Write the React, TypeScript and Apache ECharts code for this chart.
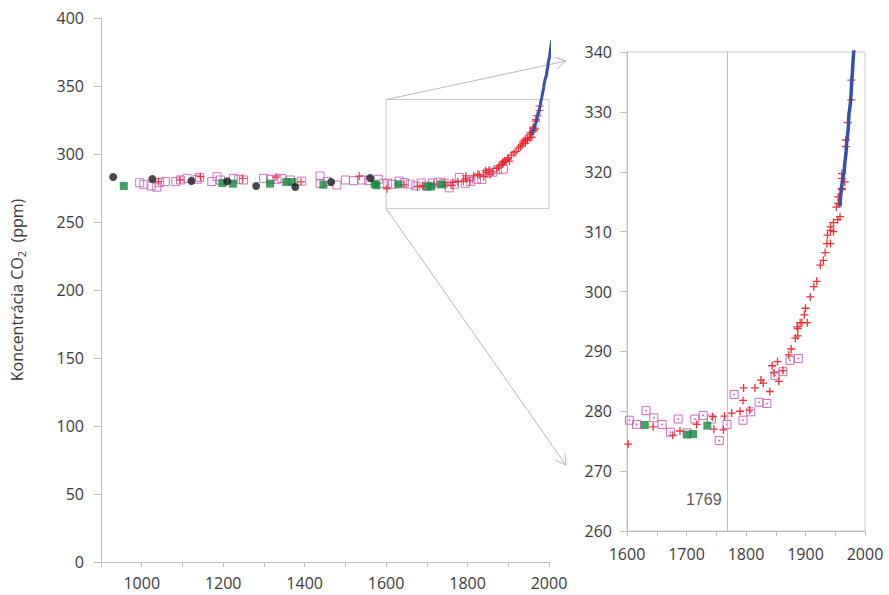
import React, { useEffect, useRef } from 'react';
import * as echarts from 'echarts';

// Ice-core / instrumental CO2 records: [year, ppm]
const blackCircles: number[][] = [
  [930, 283.1], [1026, 281.6], [1122, 280.1], [1210, 279.9], [1281, 276.5],
  [1377, 275.7], [1465, 279.4], [1561, 282.4],
];

const greenSquares: number[][] = [
  [956, 276.5], [1198, 278.7], [1224, 278.2], [1315, 278.2], [1355, 279.4],
  [1370, 279.4], [1446, 277.4], [1572, 278.0], [1576, 277.0], [1630, 277.7],
  [1701, 276.1], [1711, 276.2], [1735, 277.6],
];

const magentaSquares: number[][] = [
  [995, 278.9], [1005, 277.7], [1023, 276.5], [1037, 275.6], [1044, 278.9],
  [1058, 279.7], [1084, 279.7], [1095, 280.9], [1111, 282.1], [1136, 281.4],
  [1142, 282.8], [1172, 279.7], [1185, 283.3], [1193, 280.9], [1225, 282.1],
  [1238, 281.4], [1250, 280.9], [1299, 282.1], [1316, 281.4], [1332, 281.4],
  [1344, 282.1], [1365, 280.9], [1393, 280.1], [1438, 283.8], [1438, 278.4],
  [1455, 279.7], [1479, 277.2], [1500, 280.9], [1520, 280.4], [1541, 280.9],
  [1557, 280.4], [1581, 281.4], [1593, 278.4],
  [1604, 278.5], [1616, 277.8], [1632, 280.1], [1645, 278.9], [1659, 277.8],
  [1673, 276.5], [1686, 278.7], [1701, 276.4], [1714, 278.7], [1728, 279.3],
  [1742, 278.7], [1755, 275.1], [1768, 277.8], [1780, 282.8], [1795, 278.5],
  [1808, 279.9], [1822, 281.5], [1835, 281.3], [1849, 286.0], [1862, 286.6],
  [1874, 288.5], [1888, 288.8],
];

const redCrosses: number[][] = [
  [1041, 279.7], [1094, 281.0], [1144, 283.3], [1248, 282.0], [1330, 283.0],
  [1391, 279.5], [1534, 283.8],
  [1602, 274.5], [1644, 277.4], [1677, 276.0], [1689, 276.7], [1717, 277.8],
  [1744, 279.1], [1746, 277.0], [1762, 276.9], [1764, 279.2], [1776, 279.7],
  [1790, 280.0], [1795, 281.8], [1796, 283.9], [1806, 280.2], [1815, 283.9],
  [1825, 285.2], [1829, 284.7], [1840, 283.3], [1844, 287.6], [1847, 286.4],
  [1853, 288.3], [1855, 285.0], [1862, 286.8], [1872, 289.4], [1876, 290.4],
  [1883, 292.2], [1886, 294.1], [1887, 292.6], [1887, 293.8], [1891, 294.8],
  [1894, 294.8], [1898, 296.1], [1900, 297.2], [1903, 294.8], [1908, 299.1],
  [1914, 300.8], [1919, 301.7], [1925, 304.4], [1930, 305.2], [1933, 306.5],
  [1936, 308.0], [1937, 309.4], [1942, 308.0], [1942, 310.2], [1942, 310.8],
  [1947, 310.0], [1947, 311.5], [1952, 314.1], [1954, 312.0], [1955, 314.7],
  [1955, 315.8], [1958, 312.5], [1961, 317.0], [1961, 317.2], [1961, 318.9],
  [1961, 319.7], [1966, 318.3], [1968, 324.2], [1968, 325.3], [1971, 328.2],
  [1977, 332.0], [1977, 335.3],
];

const maunaLoa: number[][] = [
  [1958, 314.2], [1959, 316.0], [1960, 316.9], [1961, 317.6], [1962, 318.5],
  [1963, 319.0], [1964, 319.6], [1965, 320.0], [1966, 321.4], [1967, 322.2],
  [1968, 323.0], [1969, 324.6], [1970, 325.7], [1971, 326.3], [1972, 327.5],
  [1973, 329.7], [1974, 330.2], [1975, 331.1], [1976, 332.0], [1977, 333.8],
  [1978, 335.4], [1979, 336.8], [1980, 338.7], [1981, 339.9], [1982, 341.1],
  [1983, 342.8], [1984, 344.4], [1985, 345.9], [1986, 347.2], [1987, 348.9],
  [1988, 351.5], [1989, 352.9], [1990, 354.2], [1991, 355.6], [1992, 356.4],
  [1993, 357.1], [1994, 358.8], [1995, 360.8], [1996, 362.6], [1997, 363.7],
  [1998, 366.7], [1999, 368.4], [2000, 369.7], [2001, 371.3], [2002, 373.5],
  [2003, 375.8], [2004, 377.5], [2005, 379.8], [2006, 381.9], [2007, 383.8],
];

const zoomWindow = { x0: 1600, x1: 2000, y0: 260, y1: 340 };
const cutoffYear = 1769;
const cutoffLabelValue = 265.2;
const yAxisTitle = 'Koncentrácia CO{s|2}  (ppm)';

const CROSS = 'path://M0,5L10,5M5,0L5,10';
const BOX = 'path://M0,0L10,0L10,10L0,10Z';
const BOX_DOT = 'path://M0,0L10,0L10,10L0,10Z M4.4,4.4L5.6,4.4L5.6,5.6L4.4,5.6Z';

const AXIS_COLOR = '#bdbdbd';
const LABEL_COLOR = '#3a3a3a';
const FONT = 'Open Sans';
const FS = 16;
const RED = '#f0262b';
const MAGENTA = '#c65ab8';
const GREEN = '#138a3e';
const BLACK = '#1a1a1a';
const BLUE = '#3352a6';

export default function App() {
  const ref = useRef<HTMLDivElement>(null);

  useEffect(() => {
    const chart = echarts.init(ref.current!, null, { renderer: 'svg' });
    const inZoom = (d: number[]) => d[0] >= zoomWindow.x0;

    const axisLine = { show: true, lineStyle: { color: AXIS_COLOR, width: 1 } };
    const tick = (len: number) => ({ show: true, inside: false, length: len, lineStyle: { color: AXIS_COLOR } });
    const label = { color: LABEL_COLOR, fontFamily: FONT, fontSize: FS };

    const option: any = {
      animation: false,
      backgroundColor: '#ffffff',
      grid: [
        { left: 101, top: 18, width: 448, height: 544, show: false },
        { left: 627, top: 52, width: 238, height: 479, show: true, borderColor: '#c8c8c8', borderWidth: 1, backgroundColor: 'transparent' },
      ],
      xAxis: [
        {
          gridIndex: 0, type: 'value', min: 900, max: 2000, interval: 100,
          axisLine, axisTick: tick(5), splitLine: { show: false },
          axisLabel: { ...label, margin: 13, formatter: (v: number) => (v % 200 === 0 ? String(v) : '') },
        },
        {
          gridIndex: 1, type: 'value', min: 1600, max: 2000, interval: 50,
          axisLine, axisTick: tick(5), splitLine: { show: false },
          axisLabel: { ...label, margin: 15, formatter: (v: number) => (v % 100 === 0 ? String(v) : '') },
        },
      ],
      yAxis: [
        {
          gridIndex: 0, type: 'value', min: 0, max: 400, interval: 50,
          axisLine, axisTick: tick(7), splitLine: { show: false },
          axisLabel: { ...label, margin: 17 },
          name: yAxisTitle,
          nameLocation: 'middle',
          nameRotate: 90,
          nameGap: 74,
          nameTextStyle: {
            color: LABEL_COLOR, fontFamily: FONT, fontSize: FS,
            rich: { s: { fontFamily: FONT, fontSize: 11, color: LABEL_COLOR, padding: [10, 0, 0, 0] } },
          },
        },
        {
          gridIndex: 1, type: 'value', min: 260, max: 340, interval: 10,
          axisLine, axisTick: tick(7), splitLine: { show: false },
          axisLabel: { ...label, margin: 15 },
        },
      ],
      series: [
        // Left (overview) grid
        {
          type: 'scatter', xAxisIndex: 0, yAxisIndex: 0, data: magentaSquares,
          symbol: BOX, symbolSize: 8,
          itemStyle: { color: 'transparent', borderColor: MAGENTA, borderWidth: 1, opacity: 0.85 },
          markArea: {
            silent: true,
            itemStyle: { color: 'transparent', borderColor: '#c4c4c4', borderWidth: 1 },
            data: [[{ xAxis: zoomWindow.x0, yAxis: zoomWindow.y0 }, { xAxis: zoomWindow.x1, yAxis: zoomWindow.y1 }]],
          },
        },
        {
          type: 'scatter', xAxisIndex: 0, yAxisIndex: 0, data: redCrosses,
          symbol: CROSS, symbolSize: 8,
          itemStyle: { color: 'transparent', borderColor: RED, borderWidth: 1.2, opacity: 0.9 },
        },
        {
          type: 'scatter', xAxisIndex: 0, yAxisIndex: 0, data: greenSquares,
          symbol: 'rect', symbolSize: 8, itemStyle: { color: GREEN },
        },
        {
          type: 'scatter', xAxisIndex: 0, yAxisIndex: 0, data: blackCircles,
          symbol: 'circle', symbolSize: 8, itemStyle: { color: BLACK },
        },
        {
          type: 'line', xAxisIndex: 0, yAxisIndex: 0, data: maunaLoa, clip: false,
          showSymbol: false, symbol: 'none', lineStyle: { color: BLUE, width: 3 },
        },
        // Right (zoomed) grid
        {
          type: 'scatter', xAxisIndex: 1, yAxisIndex: 1, data: magentaSquares.filter(inZoom),
          symbol: BOX_DOT, symbolSize: 8,
          itemStyle: { color: 'transparent', borderColor: MAGENTA, borderWidth: 1, opacity: 0.9 },
        },
        {
          type: 'scatter', xAxisIndex: 1, yAxisIndex: 1, data: redCrosses.filter(inZoom),
          symbol: CROSS, symbolSize: 8,
          itemStyle: { color: 'transparent', borderColor: RED, borderWidth: 1.3, opacity: 0.95 },
        },
        {
          type: 'scatter', xAxisIndex: 1, yAxisIndex: 1, data: greenSquares.filter(inZoom),
          symbol: 'rect', symbolSize: 8, itemStyle: { color: GREEN },
        },
        {
          type: 'line', xAxisIndex: 1, yAxisIndex: 1, data: maunaLoa, clip: true,
          showSymbol: false, symbol: 'none', lineStyle: { color: BLUE, width: 3.5 },
        },
        {
          type: 'scatter', xAxisIndex: 1, yAxisIndex: 1, data: [[cutoffYear, cutoffLabelValue]],
          symbolSize: 0, silent: true,
          label: {
            show: true, position: 'left', distance: 6, formatter: String(cutoffYear),
            fontFamily: 'Liberation Sans', fontSize: 16, color: '#2a2a2a',
          },
          markLine: {
            silent: true, symbol: ['none', 'none'],
            lineStyle: { color: '#bdbdbd', width: 1, type: 'solid' },
            label: { show: false },
            data: [{ xAxis: cutoffYear }],
          },
        },
      ],
    };

    chart.setOption(option);

    // Connector arrows from the zoom rectangle to the zoomed panel
    const pTop = chart.convertToPixel({ gridIndex: 0 }, [zoomWindow.x0, zoomWindow.y1]) as number[];
    const pBot = chart.convertToPixel({ gridIndex: 0 }, [zoomWindow.x0, zoomWindow.y0]) as number[];
    const tTop = chart.convertToPixel({ gridIndex: 1 }, [zoomWindow.x0, 338.5]) as number[];
    const tBot = chart.convertToPixel({ gridIndex: 1 }, [zoomWindow.x0, 271]) as number[];
    const gap = 61;
    const tipTop = [tTop[0] - gap, tTop[1]];
    const tipBot = [tBot[0] - gap, tBot[1]];

    const lineStyle = { stroke: '#b8b8b8', lineWidth: 1 };
    const arrow = (a: number[], b: number[]) => {
      const dx = b[0] - a[0], dy = b[1] - a[1];
      const L = Math.hypot(dx, dy);
      const vx = -dx / L, vy = -dy / L;
      const ang = Math.PI / 6, len = 12;
      const arms = [ang, -ang].map((t) => {
        const rx = vx * Math.cos(t) - vy * Math.sin(t);
        const ry = vx * Math.sin(t) + vy * Math.cos(t);
        return { type: 'line', silent: true, shape: { x1: b[0], y1: b[1], x2: b[0] + rx * len, y2: b[1] + ry * len }, style: lineStyle };
      });
      return [
        { type: 'line', silent: true, shape: { x1: a[0], y1: a[1], x2: b[0], y2: b[1] }, style: lineStyle },
        ...arms,
      ];
    };

    chart.setOption({ graphic: [...arrow(pTop, tipTop), ...arrow(pBot, tipBot)] });

    return () => chart.dispose();
  }, []);

  return <div ref={ref} style={{ position: 'fixed', left: 0, top: 0, width: 889, height: 595 }} />;
}
